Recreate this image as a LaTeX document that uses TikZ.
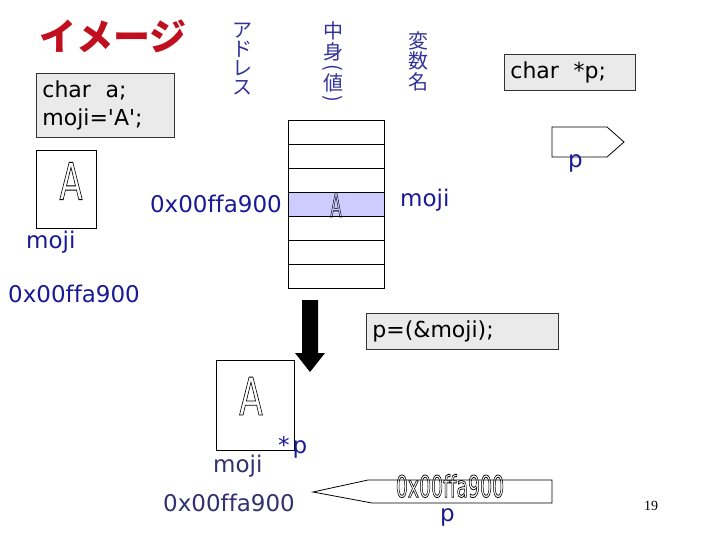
\documentclass[tikz,border=0pt]{standalone}
\usepackage{fontspec}
\setmainfont{DejaVu Sans}
\newfontfamily\plain{DejaVu Sans}[Ligatures={NoCommon}]
\newfontfamily\cjk{Noto Sans CJK JP}
\newfontfamily\pagenumfont{Liberation Serif}
\usepackage{graphicx}
\definecolor{navy}{RGB}{26,26,150}
\definecolor{lblue}{RGB}{51,51,153}
\definecolor{dblue}{RGB}{50,50,110}
\definecolor{titlered}{RGB}{192,16,32}
\definecolor{codebg}{RGB}{234,234,234}
\definecolor{cellfill}{RGB}{204,204,255}
\newcommand{\outlinetext}[4]{\scalebox{#1}[1]{\plain\fontsize{#2}{#2}\selectfont\color{black}\special{pdf:code 1 Tr #3 w}#4\special{pdf:code 0 Tr}}}
\begin{document}
\begin{tikzpicture}[x=1pt,y=-1pt,
  codebox/.style={draw=black!80, fill=codebg, line width=0.8pt, inner xsep=6pt, inner ysep=0pt, align=left, font=\plain\fontsize{22}{28}\selectfont},
  lbl/.style={inner sep=0pt, text=navy, font=\plain\fontsize{23}{26}\selectfont},
  vlab/.style={inner sep=0pt, text=lblue, font=\cjk\fontsize{20}{19.3}\selectfont, align=center},
  cell/.style={draw=black, line width=0.8pt},
  thin/.style={draw=black, line width=0.8pt}]
\useasboundingbox (0,0) rectangle (720,540);

% title
\node[inner sep=0pt, text=titlered, font=\cjk\bfseries\fontsize{37}{37}\selectfont] (title) at (113,36) {イメージ};

% declaration box
\node[codebox, anchor=north west, minimum width=138pt, minimum height=64pt, text width=126pt] (decl) at (36,73) {char\ \ a;\\moji='A';};

% vertical headers
\node[vlab] (h1) at (242,59) {ア\\ド\\レ\\ス};
\node[vlab] (h2a) at (333,31) {中};
\node[vlab] (h2b) at (333,52) {身};
\node[vlab, rotate=-90] (h2c) at (333,68) {(};
\node[vlab] (h2d) at (333,83) {値};
\node[vlab, rotate=-90] (h2e) at (333,99) {)};
\node[vlab, font=\cjk\fontsize{20}{20.5}\selectfont] (h3) at (418,61) {変\\数\\名};

% char *p box
\node[codebox, anchor=north west, minimum width=131pt, minimum height=36pt, text width=119pt] (pdecl) at (504,54) {char\ \ *p;};

% pointer pentagon
\draw[thin] (552,127) -- (607,127) -- (624,142) -- (607,157) -- (552,157) -- cycle;
\node[lbl, anchor=base west] (plab1) at (568,168) {p};

% char box with A
\node[thin, minimum width=60pt, minimum height=78pt, anchor=north west] (abox1) at (36,150) {};
\node[inner sep=0pt] (a1) at (71,181) {\outlinetext{0.66}{51}{0.9}{A}};
\node[lbl, anchor=base west] (moji1) at (26,248) {moji};
\node[lbl, anchor=base west] (addr1) at (8,302) {0x00ffa900};

% memory table
\fill[cellfill] (288,192) rectangle (384,216);
\foreach \i in {0,...,6} {
  \draw[cell] (288,120+24*\i) rectangle (384,144+24*\i);
}
\node[inner sep=0pt] (a2) at (336,205) {\outlinetext{0.5}{33}{0.8}{A}};
\node[lbl, anchor=base east] (addr2) at (282,213) {0x00ffa900};
\node[lbl, anchor=base west] (moji2) at (400,207) {moji};

% big arrow
\fill[black] (302,300) -- (318,300) -- (318,353) -- (325,353) -- (310,372) -- (295,353) -- (302,353) -- cycle;

% assignment box
\node[codebox, anchor=north west, minimum width=192pt, minimum height=36pt, text width=180pt] (assign) at (366,313) {p=(\&moji);};

% lower char box
\node[thin, minimum width=78pt, minimum height=90pt, anchor=north west] (abox2) at (216,360) {};
\node[inner sep=0pt] (a3) at (251,396) {\outlinetext{0.66}{52}{0.9}{A}};
\node[lbl, anchor=base west] (starp) at (278,453) {*\kern3pt p};
\node[lbl, anchor=base west, text=dblue] (moji3) at (213,472) {moji};
\node[lbl, anchor=base west, text=dblue] (addr3) at (163,511) {0x00ffa900};

% lower pointer
\draw[thin] (313,492) -- (368,480) -- (552,480) -- (552,503) -- (372,503) -- cycle;
\node[inner sep=0pt] (pval) at (450,486) {\outlinetext{0.63}{30}{0.8}{0x00ffa900}};
\node[lbl, anchor=base west] (plab2) at (440,521) {p};

% page number
\node[inner sep=0pt, font=\pagenumfont\fontsize{14}{14}\selectfont] (pnum) at (651,506) {19};
\end{tikzpicture}
\end{document}
